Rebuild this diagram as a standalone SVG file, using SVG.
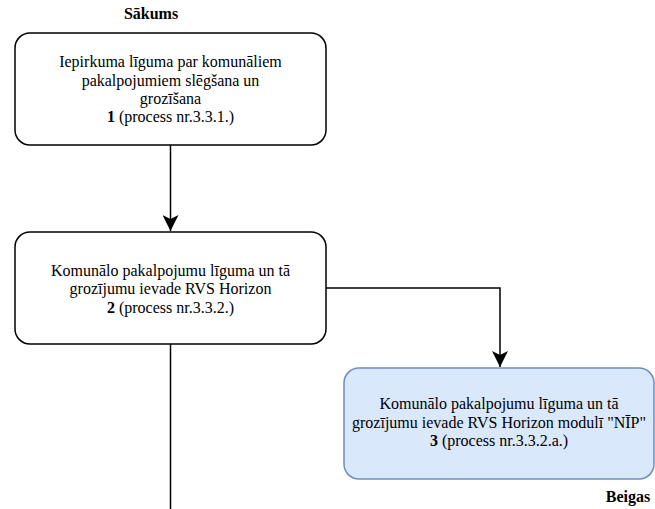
<svg xmlns="http://www.w3.org/2000/svg" width="655" height="509" viewBox="0 0 655 509">
<defs>
<style>
.box{fill:#ffffff;stroke:#000000;stroke-width:1.5}
.blue{fill:#dae8fc;stroke:#6c8ebf;stroke-width:1.5}
.t{font-family:"Liberation Serif","Times New Roman",serif;font-size:16px;fill:#000;text-anchor:middle}
.b{font-weight:bold}
.edge{fill:none;stroke:#000;stroke-width:1.5}
</style>
<marker id="arr" viewBox="0 0 16 16" refX="16" refY="8" markerWidth="16" markerHeight="16" markerUnits="userSpaceOnUse" orient="auto">
<path d="M0,0 L16,8 L0,16 L4,8 Z" fill="#000"/>
</marker>
</defs>
<rect width="655" height="509" fill="#ffffff"/>
<g id="connectors">
<path class="edge" d="M170.5,145 L170.5,231" marker-end="url(#arr)"/>
<path class="edge" d="M326,288 L500,288 L500,367" marker-end="url(#arr)"/>
<path class="edge" d="M170.5,344 L170.5,509"/>
</g>
<g id="label-start">
<text class="t b" x="151" y="19" font-size="14">Sākums</text>
</g>
<g id="node1">
<rect class="box" x="15" y="33" width="311" height="112" rx="15" ry="15"/>
<text class="t" x="170.5" y="67">Iepirkuma līguma par komunāliem</text>
<text class="t" x="170.5" y="86">pakalpojumiem slēgšana un</text>
<text class="t" x="170.5" y="104">grozīšana</text>
<text class="t" x="170.5" y="122"><tspan class="b">1</tspan> (process nr.3.3.1.)</text>
</g>
<g id="node2">
<rect class="box" x="15" y="232" width="311" height="112" rx="15" ry="15"/>
<text class="t" x="170.5" y="276">Komunālo pakalpojumu līguma un tā</text>
<text class="t" x="170.5" y="294">grozījumu ievade RVS Horizon</text>
<text class="t" x="170.5" y="313"><tspan class="b">2</tspan> (process nr.3.3.2.)</text>
</g>
<g id="node3">
<rect class="blue" x="344" y="368" width="310" height="111" rx="15" ry="15"/>
<text class="t" x="499" y="409">Komunālo pakalpojumu līguma un tā</text>
<text class="t" x="499" y="427.5">grozījumu ievade RVS Horizon modulī "NĪP"</text>
<text class="t" x="499" y="446"><tspan class="b">3</tspan> (process nr.3.3.2.a.)</text>
</g>
<g id="label-end">
<text class="t b" x="628" y="502" font-size="14">Beigas</text>
</g>
</svg>
